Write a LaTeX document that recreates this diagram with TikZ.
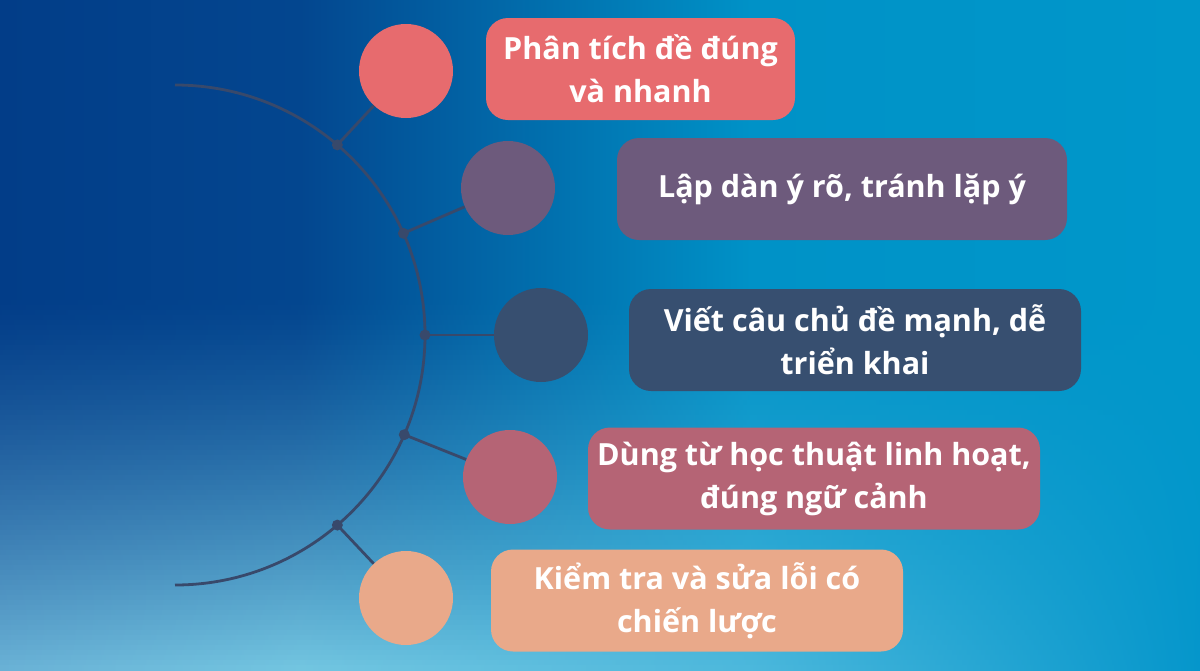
\documentclass[tikz,border=0pt]{standalone}
\usepackage{fontspec}
\setmainfont{Open Sans}
\definecolor{topL}{HTML}{023D88}
\definecolor{topA}{HTML}{03468F}
\definecolor{topB}{HTML}{0092C7}
\definecolor{topR}{HTML}{0097CA}
\definecolor{botL}{HTML}{6AB2D6}
\definecolor{botA}{HTML}{73C6E1}
\definecolor{botB}{HTML}{4CB8DC}
\definecolor{botR}{HTML}{0596CB}
\definecolor{cpink}{HTML}{E76B6E}
\definecolor{cpurple}{HTML}{6D5A7C}
\definecolor{cnavy}{HTML}{374F70}
\definecolor{crose}{HTML}{B56475}
\definecolor{cpeach}{HTML}{E9A98A}
\definecolor{clink}{HTML}{38496B}
\begin{document}
\begin{tikzpicture}[x=1pt,y=-1pt,
  bubble/.style={circle, minimum size=94pt, inner sep=0pt, draw=none},
  tbox/.style={rounded corners=22pt, minimum height=102pt, inner sep=0pt, text=white, align=center,
    font=\bfseries\fontsize{30.5}{43}\selectfont},
  jdot/.style={circle, fill=clink, minimum size=11pt, inner sep=0pt},
  link/.style={draw=clink, line width=2.8pt}]
\useasboundingbox (0,0) rectangle (1200,670);
% background gradient built from strips
\foreach \i in {0,...,133}{
  \pgfmathsetmacro\ya{\i*5}
  \pgfmathsetmacro\yb{\i*5+6}
  \pgfmathsetmacro\tt{100*max(0.0001,min(1,(\i*5+2.5-300)/370))^1.3}
  \colorlet{rowL}{botL!\tt!topL}
  \colorlet{rowA}{botA!\tt!topA}
  \colorlet{rowB}{botB!\tt!topB}
  \colorlet{rowR}{botR!\tt!topR}
  \shade[left color=rowL, right color=rowA] (0,\ya) rectangle (301,\yb);
  \shade[left color=rowA, right color=rowB] (300,\ya) rectangle (751,\yb);
  \shade[left color=rowB, right color=rowR] (750,\ya) rectangle (1200,\yb);
}
% arc
\draw[link] (175,85) arc[start angle=-90, end angle=90, radius=250];
\coordinate (ctr) at (175,335);
\path (ctr) ++(-49.5:250) node[jdot] (d1) {};
\path (ctr) ++(-24:250) node[jdot] (d2) {};
\path (ctr) ++(0:250) node[jdot] (d3) {};
\path (ctr) ++(23.5:250) node[jdot] (d4) {};
\path (ctr) ++(49.5:250) node[jdot] (d5) {};
% circles
\node[bubble, fill=cpink] (c1) at (406,71) {};
\node[bubble, fill=cpurple] (c2) at (508,188) {};
\node[bubble, fill=cnavy] (c3) at (541,335) {};
\node[bubble, fill=crose] (c4) at (510,477) {};
\node[bubble, fill=cpeach] (c5) at (406,598) {};
% connectors
\draw[link] (d1.center) -- (c1);
\draw[link] (d2.center) -- (c2);
\draw[link] (d3.center) -- (c3);
\draw[link] (d4.center) -- (c4);
\draw[link] (d5.center) -- (c5);
% boxes
\node[tbox, fill=cpink, minimum width=309pt] (b1) at (640.5,69) {Phân tích đề đúng\\và nhanh};
\node[tbox, fill=cpurple, minimum width=450pt] (b2) at (842,189) {Lập dàn ý rõ, tránh lặp ý};
\node[tbox, fill=cnavy, minimum width=452pt] (b3) at (855,340) {Viết câu chủ đề mạnh, dễ\\triển khai};
\node[tbox, fill=crose, minimum width=452pt] (b4) at (814,478.5) {Dùng từ học thuật linh hoạt,\\đúng ngữ cảnh};
\node[tbox, fill=cpeach, minimum width=412pt] (b5) at (697,600.5) {Kiểm tra và sửa lỗi có\\chiến lược};
\end{tikzpicture}
\end{document}
